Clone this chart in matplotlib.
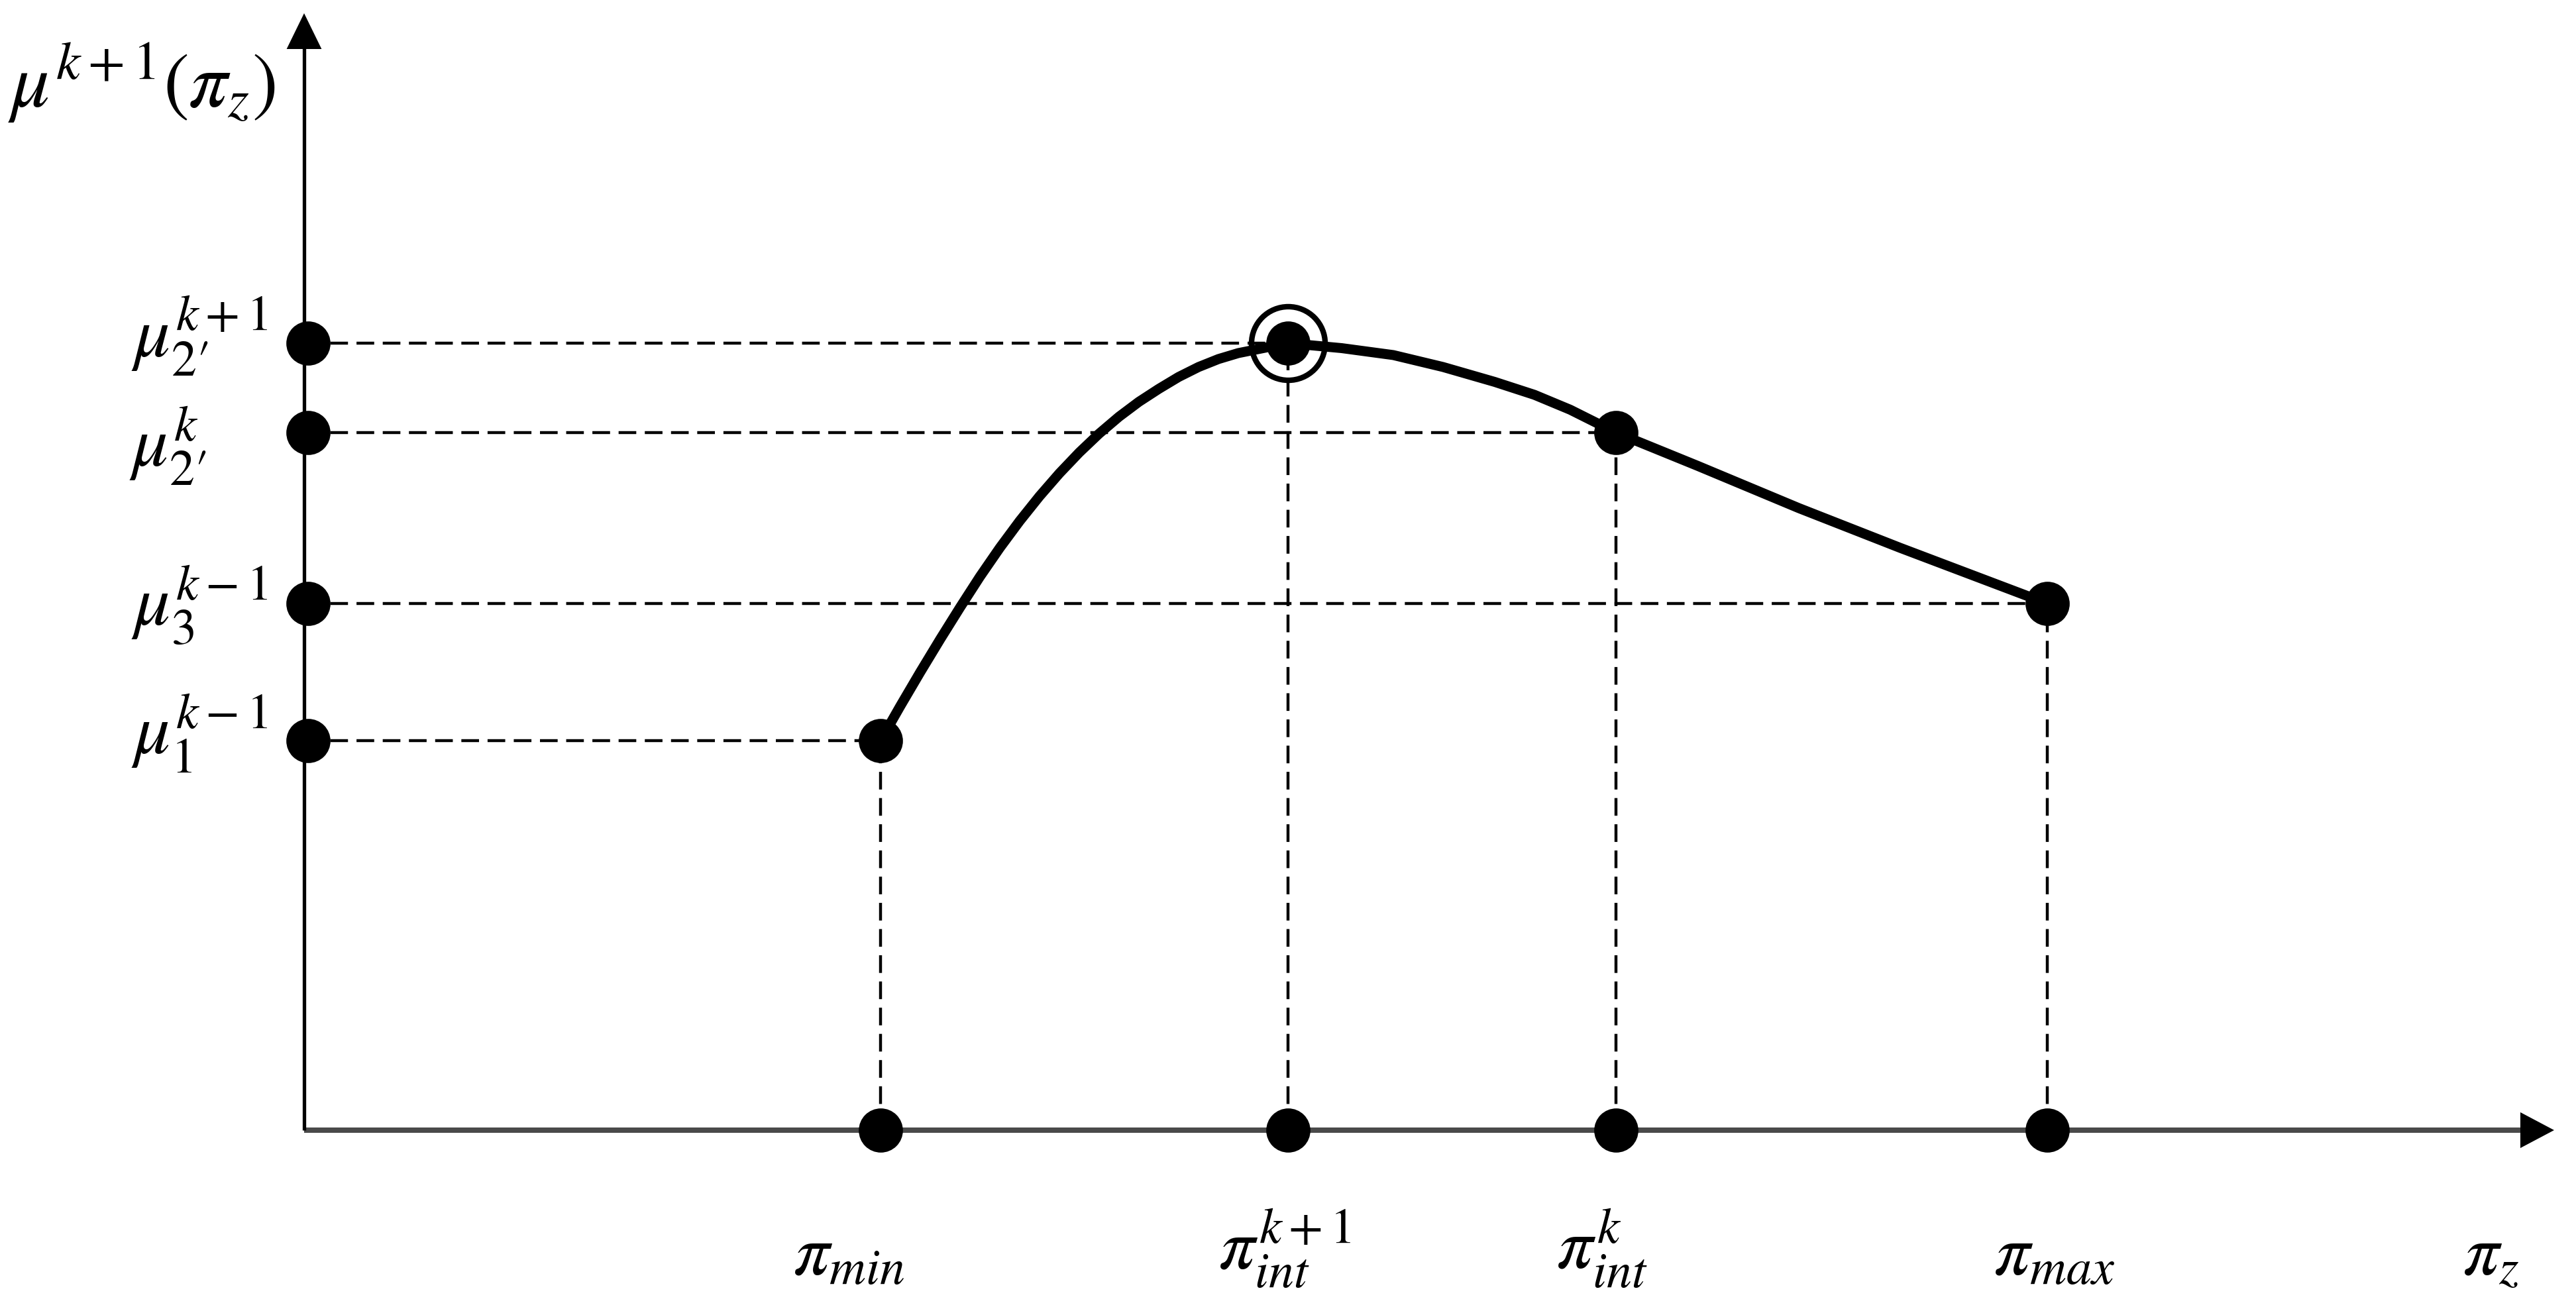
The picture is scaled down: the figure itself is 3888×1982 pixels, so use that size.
import matplotlib
matplotlib.use("Agg")
import matplotlib.pyplot as plt

plt.rcParams['mathtext.fontset'] = 'stix'

# key points on the horizontal axis (pi values) and vertical axis (mu values)
x_names = [r'$\pi_{min}$', r'$\pi_{int}^{k+1}$', r'$\pi_{int}^{k}$', r'$\pi_{max}$']
x_vals = [2.90, 4.95, 6.60, 8.77]
y_names = [r'$\mu_{1}^{k-1}$', r'$\mu_{3}^{k-1}$', r'$\mu_{2\prime}^{k}$',
           r'$\mu_{2\prime}^{k+1}$']
y_vals = [1.96, 2.65, 3.51, 3.96]

# membership curve
curve_x = [2.90, 3.00, 3.10, 3.20, 3.30, 3.40, 3.50, 3.60, 3.70, 3.80,
           3.90, 4.00, 4.10, 4.20, 4.30, 4.40, 4.50, 4.60, 4.70, 4.80,
           4.90, 4.95,
           5.22, 5.48, 5.73, 5.99, 6.19, 6.37, 6.60, 7.01, 7.52, 8.03, 8.77]
curve_y = [1.96, 2.135, 2.305, 2.47, 2.63, 2.785, 2.93, 3.065, 3.19, 3.305,
           3.41, 3.505, 3.59, 3.665, 3.73, 3.79, 3.84, 3.88, 3.91, 3.93,
           3.95, 3.96,
           3.935, 3.90, 3.84, 3.765, 3.70, 3.625, 3.51, 3.343, 3.13, 2.93, 2.65]

# curve points and which mu each one is projected on
pairs = [(2.90, 1.96), (4.95, 3.96), (6.60, 3.51), (8.77, 2.65)]

# label placement (left edge, baseline)
x_label_pos = [(2.46, -0.73), (4.60, -0.70), (6.30, -0.70), (8.50, -0.73)]
y_label_pos = [(-0.87, 1.89), (-0.87, 2.54), (-0.88, 3.34), (-0.87, 3.89)]

x_end, y_end = 11.32, 5.62

fig = plt.figure(figsize=(19.44, 9.91), dpi=200)
ax = fig.add_axes([0, 0, 1, 1])
ax.set_xlim(-459 / 300, (3888 - 459) / 300)
ax.set_ylim(-(1982 - 1706) / 300, 1706 / 300)
ax.axis('off')

# axes with arrowheads
ax.plot([0, x_end - 0.15], [0, 0], color='#4a4a4a', lw=2.9, zorder=2,
        solid_capstyle='butt')
ax.plot([0, 0], [0, y_end - 0.15], color='black', lw=1.9, zorder=2,
        solid_capstyle='butt')
ax.fill([x_end, x_end - 0.17, x_end - 0.17], [0, 0.09, -0.09],
        color='black', lw=0, zorder=3)
ax.fill([0, -0.088, 0.088], [y_end, y_end - 0.18, y_end - 0.18],
        color='black', lw=0, zorder=3)

# dashed projection lines
dash = (0, (6.0, 2.9))
for px, py in pairs:
    ax.plot([0, px], [py, py], color='black', lw=1.6, linestyle=dash, zorder=1)
    ax.plot([px, px], [0, py], color='black', lw=1.6, linestyle=dash, zorder=1)

# curve
ax.plot(curve_x, curve_y, color='black', lw=5.4, zorder=4,
        solid_joinstyle='round', solid_capstyle='round')

# dots on curve and axes
ms = 24
ax.plot([p[0] for p in pairs], [p[1] for p in pairs], 'o', color='black',
        ms=ms, mew=0, zorder=5)
ax.plot(x_vals, [0] * len(x_vals), 'o', color='black', ms=ms, mew=0, zorder=5)
ax.plot([0.02] * len(y_vals), y_vals, 'o', color='black', ms=ms, mew=0, zorder=5)

# highlighted maximum
ax.plot([x_vals[1]], [y_vals[3]], 'o', mfc='none', mec='black', ms=40,
        mew=3.0, zorder=5)

# labels
fs = 39
for name, (lx, ly) in zip(x_names, x_label_pos):
    ax.text(lx, ly, name, fontsize=fs, ha='left', va='baseline')
ax.text(10.86, -0.73, r'$\pi_z$', fontsize=fs, ha='left', va='baseline')
for name, (lx, ly) in zip(y_names, y_label_pos):
    ax.text(lx, ly, name, fontsize=fs, ha='left', va='baseline')
ax.text(-1.49, 5.15, r'$\mu^{k+1}(\pi_z)$', fontsize=42, ha='left',
        va='baseline')

fig.savefig('out.png', dpi=200, facecolor='white')
